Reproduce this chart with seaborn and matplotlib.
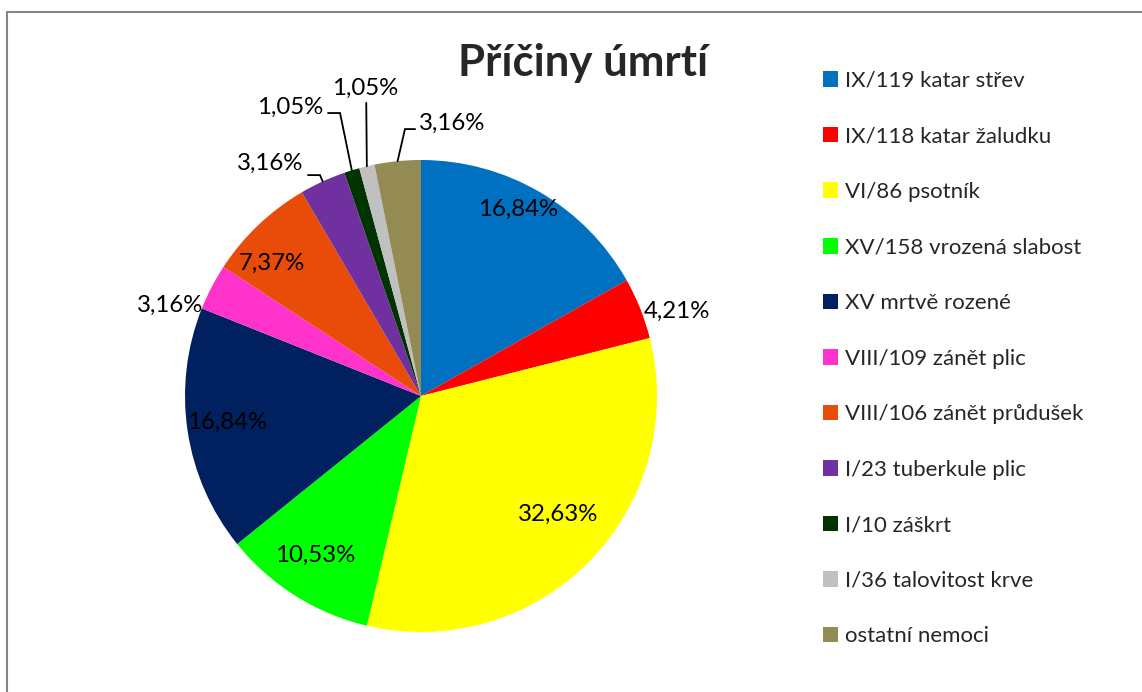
import numpy as np
import matplotlib
matplotlib.use('Agg')
import matplotlib.pyplot as plt
import seaborn as sns
from matplotlib.patches import Patch, Rectangle

# data
causes = ['IX/119 katar střev', 'IX/118 katar žaludku', 'VI/86 psotník',
          'XV/158 vrozená slabost', 'XV mrtvě rozené', 'VIII/109 zánět plic',
          'VIII/106 zánět průdušek', 'I/23 tuberkule plic', 'I/10 záškrt',
          'I/36 talovitost krve', 'ostatní nemoci']
shares = [16.84, 4.21, 32.63, 10.53, 16.84, 3.16, 7.37, 3.16, 1.05, 1.05, 3.16]
colors = ['#0070C0', '#FF0000', '#FFFF00', '#00FF00', '#002060', '#FF33CC',
          '#E84C08', '#7030A0', '#003300', '#C0C0C0', '#948A54']

# label layout (in pie radius units); None = no leader line
label_pos = [(0.41, 0.79), (1.085, 0.36), (0.58, -0.50), (-0.45, -0.675),
             (-0.82, -0.11), (-1.065, 0.385), (-0.63, 0.56), (-0.64, 0.985),
             (-0.555, 1.225), (-0.237, 1.305), (0.131, 1.157)]
leader_elbow = [None, None, None, None, None, None, None,
                [(-0.479, 0.936), (-0.428, 0.936)],
                [(-0.394, 1.199), (-0.343, 1.199)],
                [(-0.232, 1.242)],
                [(-0.025, 1.131), (-0.068, 1.131)]]

sns.set_theme(style='white')
plt.rcParams['font.family'] = ['Lato', 'DejaVu Sans']

fig = plt.figure(figsize=(11.42, 6.92), dpi=100)
fig.patches.append(Rectangle((6.5 / 1142, -0.1), 1.2, 1.1 - 11.5 / 692,
                             transform=fig.transFigure, fill=False,
                             edgecolor='#868686', linewidth=1.5))

ax = fig.add_axes([185 / 1142, 60 / 692, 472 / 1142, 472 / 692])
wedges, _ = ax.pie(shares, colors=colors, startangle=90, counterclock=False,
                   radius=1.0, wedgeprops=dict(linewidth=0))
ax.set_xlim(-1, 1)
ax.set_ylim(-1, 1)
ax.axis('off')

for w, val, pos, elbow in zip(wedges, shares, label_pos, leader_elbow):
    txt = f'{val:.2f}%'.replace('.', ',')
    ax.text(pos[0], pos[1], txt, ha='center', va='center', fontsize=17.3,
            color='black', clip_on=False)
    if elbow is not None:
        mid = np.deg2rad((w.theta1 + w.theta2) / 2)
        pts = elbow + [(np.cos(mid), np.sin(mid))]
        xs, ys = zip(*pts)
        ax.plot(xs, ys, color='black', linewidth=1.3, clip_on=False,
                solid_joinstyle='miter')

fig.text(583 / 1142, 1 - 63 / 692, 'Příčiny úmrtí', ha='center', va='center',
         fontsize=31.5, fontweight='bold')

handles = [Patch(facecolor=c, edgecolor='none') for c in colors]
fig.legend(handles, causes, loc='upper left',
           bbox_to_anchor=(814 / 1142, 1 - 62 / 692), frameon=False,
           fontsize=16, handlelength=0.7, handleheight=0.7,
           handletextpad=0.3, labelspacing=1.6, borderaxespad=0)

fig.savefig('out.png', dpi=100)
